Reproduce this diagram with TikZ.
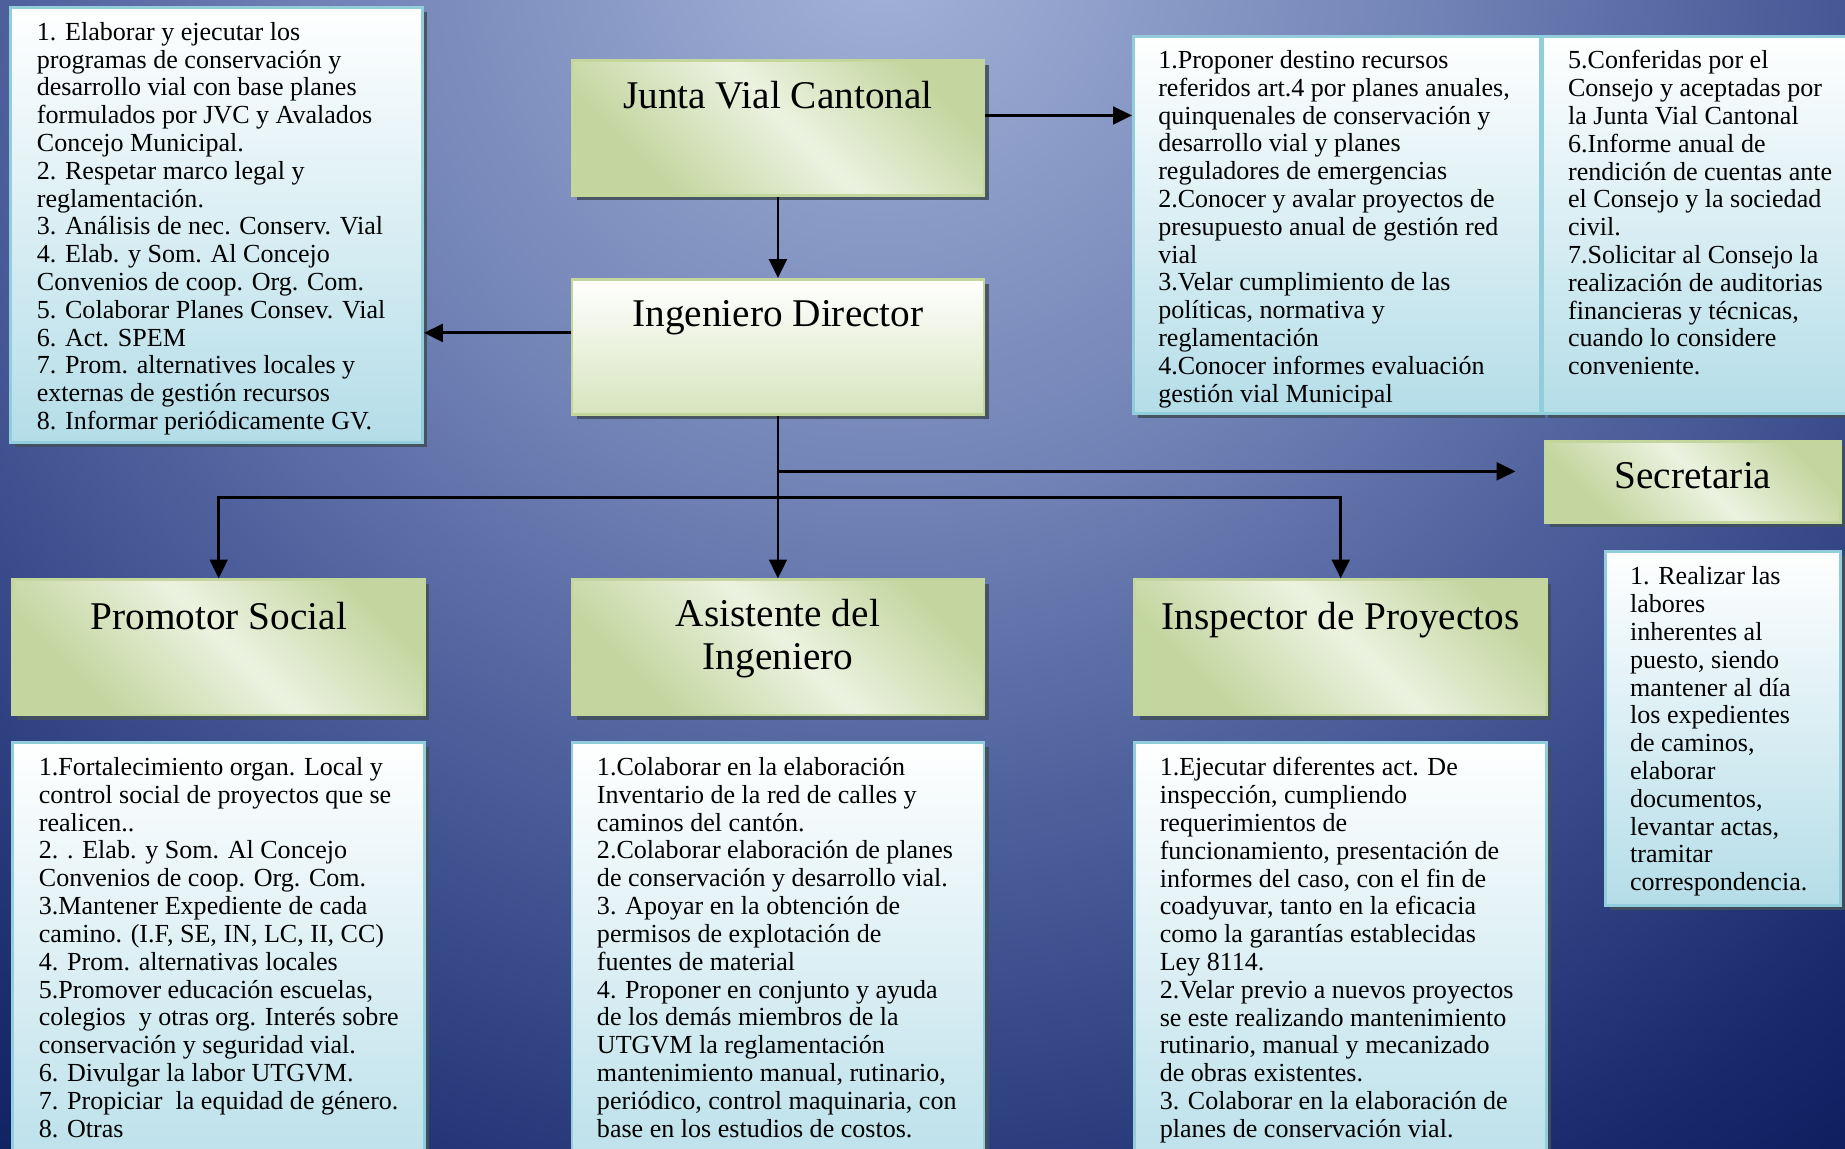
\documentclass[tikz,border=0pt]{standalone}
\usepackage{fontspec}
\setmainfont{Liberation Serif}
\usepackage{tikz}
\usetikzlibrary{
    arrows.meta,
    positioning,
    shadows,
    calc
}
\definecolor{bglight}{RGB}{163,179,216}
\definecolor{bgmid}{RGB}{112,129,181}
\definecolor{bgdeep}{RGB}{70,88,150}
\definecolor{bgdark}{RGB}{24,42,108}
\definecolor{bgnight}{RGB}{11,28,92}
\definecolor{greenlight}{RGB}{236,242,224}
\definecolor{greendark}{RGB}{196,214,160}
\definecolor{greenedge}{RGB}{195,214,155}
\definecolor{greenmid}{RGB}{215,228,189}
\definecolor{bluelight}{RGB}{180,221,232}
\definecolor{blueedge}{RGB}{146,205,220}
\definecolor{shadowgray}{RGB}{66,80,92}

\pgfdeclareradialshading{backdrop}{\pgfpoint{0bp}{0bp}}{%
    color(0bp)=(bglight); color(9bp)=(bgmid); color(15bp)=(bgdeep);
    color(22bp)=(bgdark); color(25bp)=(bgnight); color(50bp)=(bgnight)}
\pgfdeclarehorizontalshading{greenband}{100bp}{%
    color(0bp)=(greendark); color(28bp)=(greendark); color(52bp)=(greenlight);
    color(75bp)=(greendark); color(100bp)=(greendark)}

\tikzset{
    greenbox/.style={
        rectangle,
        shading=greenband,
        shading angle=45,
        draw=greenedge,
        line width=1.3pt,
        minimum width=7.0cm,
        minimum height=2.3cm,
        drop shadow={shadow xshift=0.08cm, shadow yshift=-0.08cm, fill=shadowgray, opacity=0.9}
    },
    listbox/.style={
        rectangle,
        top color=white,
        bottom color=bluelight,
        draw=blueedge,
        line width=1.3pt,
        drop shadow={shadow xshift=0.08cm, shadow yshift=-0.08cm, fill=shadowgray, opacity=0.9}
    },
    boxtitle/.style={
        anchor=north,
        inner sep=0pt,
        align=center,
        font=\fontsize{19}{21}\selectfont
    },
    listtext/.style={
        anchor=north west,
        inner sep=0pt,
        align=left,
        font=\fontsize{12.6}{13.45}\selectfont
    },
    conn/.style={
        -{Triangle[width=0.3cm,length=0.32cm]},
        line width=1.4pt,
        draw=black
    }
}

\begin{document}
\begin{tikzpicture}[node distance=1.4cm]
    \useasboundingbox (0,0) rectangle (31.36,-19.52);
    \begin{scope}
        \clip (0,0) rectangle (31.36,-19.52);
        \shade[shading=backdrop] (15,1) circle (27cm);
    \end{scope}

    % Boxes
    \node[greenbox, anchor=north west] (junta) at (9.70,-1.00) {};
    \node[greenbox, below=1.38cm of junta, top color=white, bottom color=greenmid, shading angle=0] (director) {};
    \node[listbox, anchor=north west, minimum width=7.0cm, minimum height=7.4cm] (duties) at (0.16,-0.10) {};
    \node[listbox, anchor=north west, minimum width=6.92cm, minimum height=6.4cm] (juntaleft) at (19.24,-0.60) {};
    \node[listbox, right=0pt of juntaleft, minimum width=5.4cm, minimum height=6.4cm] (juntaright) {};
    \node[greenbox, below=2.76cm of director] (assistant) {};
    \node[greenbox, left=2.46cm of assistant] (promoter) {};
    \node[greenbox, right=2.52cm of assistant] (inspector) {};
    \node[greenbox, anchor=north west, minimum width=5.02cm, minimum height=1.38cm] (secretary) at (26.24,-7.48) {};
    \node[listbox, anchor=north east, minimum width=4.0cm, minimum height=6.02cm] (secretarytasks) at ([yshift=-0.44cm]secretary.south east) {};
    \node[listbox, below=0.42cm of promoter, minimum width=7.0cm, minimum height=8cm] (promotertasks) {};
    \node[listbox, below=0.42cm of assistant, minimum width=7.0cm, minimum height=8cm] (assistanttasks) {};
    \node[listbox, below=0.42cm of inspector, minimum width=7.0cm, minimum height=8cm] (inspectortasks) {};

    % Titles
    \node[boxtitle] (juntatitle) at ([yshift=-0.38cm]junta.north) {Junta Vial Cantonal};
    \node[boxtitle] (directortitle) at ([yshift=-0.38cm]director.north) {Ingeniero Director};
    \node[boxtitle] (promotertitle) at ([yshift=-0.4cm]promoter.north) {Promotor Social};
    \node[boxtitle] (assistanttitle) at ([yshift=-0.34cm]assistant.north) {Asistente del\\Ingeniero};
    \node[boxtitle] (inspectortitle) at ([yshift=-0.4cm]inspector.north) {Inspector de Proyectos};
    \node[boxtitle] (secretarytitle) at ([yshift=-0.38cm]secretary.north) {Secretaria};

    % Lists
    \node[listtext] (dutiestext) at ([xshift=0.46cm,yshift=-0.27cm]duties.north west) {%
        1. Elaborar y ejecutar los\\
        programas de conservación y\\
        desarrollo vial con base planes\\
        formulados por JVC y Avalados\\
        Concejo Municipal.\\
        2. Respetar marco legal y\\
        reglamentación.\\
        3. Análisis de nec. Conserv. Vial\\
        4. Elab. y Som. Al Concejo\\
        Convenios de coop. Org. Com.\\
        5. Colaborar Planes Consev. Vial\\
        6. Act. SPEM\\
        7. Prom. alternatives locales y\\
        externas de gestión recursos\\
        8. Informar periódicamente GV.};
    \node[listtext] (juntalefttext) at ([xshift=0.44cm,yshift=-0.25cm]juntaleft.north west) {%
        1.Proponer destino recursos\\
        referidos art.4 por planes anuales,\\
        quinquenales de conservación y\\
        desarrollo vial y planes\\
        reguladores de emergencias\\
        2.Conocer y avalar proyectos de\\
        presupuesto anual de gestión red\\
        vial\\
        3.Velar cumplimiento de las\\
        políticas, normativa y\\
        reglamentación\\
        4.Conocer informes evaluación\\
        gestión vial Municipal};
    \node[listtext] (juntarighttext) at ([xshift=0.44cm,yshift=-0.25cm]juntaright.north west) {%
        5.Conferidas por el\\
        Consejo y aceptadas por\\
        la Junta Vial Cantonal\\
        6.Informe anual de\\
        rendición de cuentas ante\\
        el Consejo y la sociedad\\
        civil.\\
        7.Solicitar al Consejo la\\
        realización de auditorias\\
        financieras y técnicas,\\
        cuando lo considere\\
        conveniente.};
    \node[listtext] (secretarytext) at ([xshift=0.44cm,yshift=-0.28cm]secretarytasks.north west) {%
        1. Realizar las\\
        labores\\
        inherentes al\\
        puesto, siendo\\
        mantener al día\\
        los expedientes\\
        de caminos,\\
        elaborar\\
        documentos,\\
        levantar actas,\\
        tramitar\\
        correspondencia.};
    \node[listtext] (promotertext) at ([xshift=0.46cm,yshift=-0.27cm]promotertasks.north west) {%
        1.Fortalecimiento organ. Local y\\
        control social de proyectos que se\\
        realicen..\\
        2. . Elab. y Som. Al Concejo\\
        Convenios de coop. Org. Com.\\
        3.Mantener Expediente de cada\\
        camino. (I.F, SE, IN, LC, II, CC)\\
        4. Prom. alternativas locales\\
        5.Promover educación escuelas,\\
        colegios\ \ y otras org. Interés sobre\\
        conservación y seguridad vial.\\
        6. Divulgar la labor UTGVM.\\
        7. Propiciar\ \ la equidad de género.\\
        8. Otras};
    \node[listtext] (assistanttext) at ([xshift=0.44cm,yshift=-0.27cm]assistanttasks.north west) {%
        1.Colaborar en la elaboración\\
        Inventario de la red de calles y\\
        caminos del cantón.\\
        2.Colaborar elaboración de planes\\
        de conservación y desarrollo vial.\\
        3. Apoyar en la obtención de\\
        permisos de explotación de\\
        fuentes de material\\
        4. Proponer en conjunto y ayuda\\
        de los demás miembros de la\\
        UTGVM la reglamentación\\
        mantenimiento manual, rutinario,\\
        periódico, control maquinaria, con\\
        base en los estudios de costos.};
    \node[listtext] (inspectortext) at ([xshift=0.44cm,yshift=-0.27cm]inspectortasks.north west) {%
        1.Ejecutar diferentes act. De\\
        inspección, cumpliendo\\
        requerimientos de\\
        funcionamiento, presentación de\\
        informes del caso, con el fin de\\
        coadyuvar, tanto en la eficacia\\
        como la garantías establecidas\\
        Ley 8114.\\
        2.Velar previo a nuevos proyectos\\
        se este realizando mantenimiento\\
        rutinario, manual y mecanizado\\
        de obras existentes.\\
        3. Colaborar en la elaboración de\\
        planes de conservación vial.};

    % Connectors
    \coordinate[below=0.94cm of director.south] (secfork);
    \coordinate[below=1.38cm of director.south] (fork);
    \draw[conn] (junta) -- (director);
    \draw[conn] ([yshift=0.21cm]junta.east) -- ([yshift=0.21cm]junta.east -| juntaleft.west);
    \draw[conn] ([yshift=0.24cm]director.west) -- ([yshift=0.24cm]director.west -| duties.east);
    \draw[conn] (director) -- (assistant);
    \draw[conn] (fork) -| (promoter.north);
    \draw[conn] (fork) -| (inspector.north);
    \draw[conn, shorten >=0.48cm] (secfork) -- (secfork -| secretary.west);
\end{tikzpicture}
\end{document}
